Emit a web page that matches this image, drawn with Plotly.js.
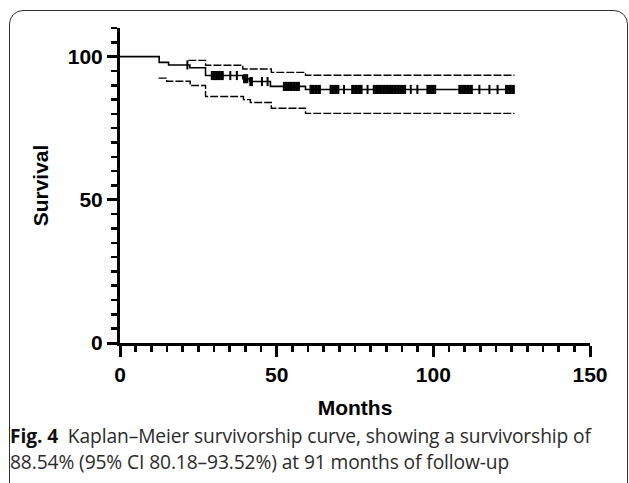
<!DOCTYPE html>
<html>
<head>
<meta charset="utf-8">
<script src="https://cdn.plot.ly/plotly-3.0.1.min.js"></script>
<style>
  html, body { margin: 0; padding: 0; background: #fff; overflow: hidden; }
  #wrap { position: relative; width: 629px; height: 483px; overflow: hidden; }
  #frame { position: absolute; left: 9px; top: 10px; width: 619px; height: 500px;
           border: 1.3px solid #333; border-radius: 14px; box-sizing: border-box; }
  #plot { position: absolute; left: 0; top: 0; width: 629px; height: 483px; }
  #caption { position: absolute; left: 10px; top: 423px; font-family: 'Open Sans', sans-serif;
             font-size: 19.2px; line-height: 26px; color: #2a2a2a; letter-spacing: -0.1px; white-space: nowrap; }
  #caption b { font-weight: 700; color: #111; }
</style>
</head>
<body>
<div id="wrap">
  <div id="frame"></div>
  <div id="plot"></div>
  <div id="caption"><b>Fig. 4</b>&nbsp; Kaplan–Meier survivorship curve, showing a survivorship of<br>88.54% (95% CI 80.18–93.52%) at 91 months of follow-up</div>
</div>
<script>
// Kaplan–Meier estimate (step function)
const kmMonths = [0, 12.5, 15.5, 22.3, 27.3, 39.2, 41.3, 48.0, 59.2, 125.9];
const kmSurvival = [100, 98.0, 97.1, 96.1, 93.4, 92.3, 91.3, 89.6, 88.54, 88.54];

// Upper 95% CI
const upperMonths = [21.8, 27.3, 39.2, 48.3, 59.2, 125.9];
const upperSurvival = [98.7, 97.0, 95.7, 94.5, 93.52, 93.52];

// Lower 95% CI
const lowerMonths = [12.3, 14.9, 22.4, 27.3, 39.4, 41.6, 48.3, 59.2, 125.9];
const lowerSurvival = [92.5, 91.4, 89.9, 86.1, 85.0, 84.0, 82.0, 80.18, 80.18];

// Censored observations (months)
const censorMonths = [
  21.5,
  29.3, 29.8, 30.3, 30.8, 31.3, 31.8, 32.3, 32.8, 35.2, 37.3,
  39.6, 40.1, 40.6, 41.6, 42.1, 45.3, 47.1,
  52.3, 52.8, 53.3, 53.8, 54.3, 54.8, 55.3, 55.8, 56.3, 56.8, 57.1,
  60.8, 61.3, 61.8, 62.3, 62.8, 63.3, 63.8,
  67.2, 67.7, 68.2, 68.7, 69.2, 69.7, 71.5,
  74.1, 74.6, 75.1, 75.6, 76.1, 76.6, 77.1, 79.0,
  81.0, 81.5, 82.0, 82.5, 83.0, 83.5, 84.0, 84.5, 85.0, 85.5, 86.0, 86.5, 87.0, 87.5,
  88.0, 88.5, 89.0, 89.5, 90.0, 90.5, 91.0, 92.8, 94.9,
  98.1, 98.6, 99.1, 99.6, 100.1, 100.6,
  108.3, 108.8, 109.3, 109.8, 110.3, 110.8, 111.3, 111.8, 112.3,
  114.7, 117.9, 120.5,
  123.2, 123.7, 124.2, 124.7, 125.2, 125.7
];

// survival level at each censor time
function levelAt(t) {
  let s = kmSurvival[0];
  for (let i = 0; i < kmMonths.length; i++) { if (kmMonths[i] <= t) s = kmSurvival[i]; }
  return s;
}
const censorSurvival = censorMonths.map(levelAt);

const xTickVals = [0, 50, 100, 150];
const yTickVals = [0, 50, 100];

const traces = [
  { x: kmMonths, y: kmSurvival, type: 'scatter', mode: 'lines', line: { shape: 'hv', color: '#000', width: 1.6 }, hoverinfo: 'skip' },
  { x: upperMonths, y: upperSurvival, type: 'scatter', mode: 'lines', line: { shape: 'hv', color: '#000', width: 1.4, dash: '8px,2px' }, hoverinfo: 'skip' },
  { x: lowerMonths, y: lowerSurvival, type: 'scatter', mode: 'lines', line: { shape: 'hv', color: '#000', width: 1.4, dash: '8px,2px' }, hoverinfo: 'skip' },
  { x: censorMonths, y: censorSurvival, type: 'scatter', mode: 'markers',
    marker: { symbol: 'line-ns', size: 6.5, color: '#000', line: { color: '#000', width: 2 } }, hoverinfo: 'skip' }
];

const tickFont = { family: 'Liberation Sans, Arial, sans-serif', size: 21, color: '#000', weight: 'bold' };
const titleFont = { family: 'Liberation Sans, Arial, sans-serif', size: 21, color: '#000' };

const layout = {
  width: 629, height: 483,
  margin: { l: 120, r: 39, t: 28, b: 140 },
  paper_bgcolor: 'rgba(0,0,0,0)', plot_bgcolor: 'rgba(0,0,0,0)',
  showlegend: false,
  xaxis: {
    range: [0, 150], showgrid: false, zeroline: false,
    showline: true, linecolor: '#000', linewidth: 3,
    tickvals: xTickVals, ticktext: xTickVals.map(String),
    ticks: 'outside', ticklen: 11, tickwidth: 3, tickcolor: '#000',
    minor: { dtick: 5, ticks: 'outside', ticklen: 6, tickwidth: 2.5, tickcolor: '#000', showgrid: false },
    tickfont: tickFont,
    title: { text: '<b>Months</b>', font: titleFont, standoff: 16 }
  },
  yaxis: {
    range: [0, 110], showgrid: false, zeroline: false,
    showline: true, linecolor: '#000', linewidth: 3,
    tickvals: yTickVals, ticktext: yTickVals.map(String),
    ticks: 'outside', ticklen: 10, tickwidth: 3, tickcolor: '#000',
    minor: { dtick: 5, ticks: 'outside', ticklen: 6, tickwidth: 2.5, tickcolor: '#000', showgrid: false },
    tickfont: tickFont,
    title: { text: '<b>Survival</b>', font: titleFont, standoff: 14 }
  }
};

Plotly.newPlot('plot', traces, layout, { staticPlot: true, displayModeBar: false });
</script>
</body>
</html>
